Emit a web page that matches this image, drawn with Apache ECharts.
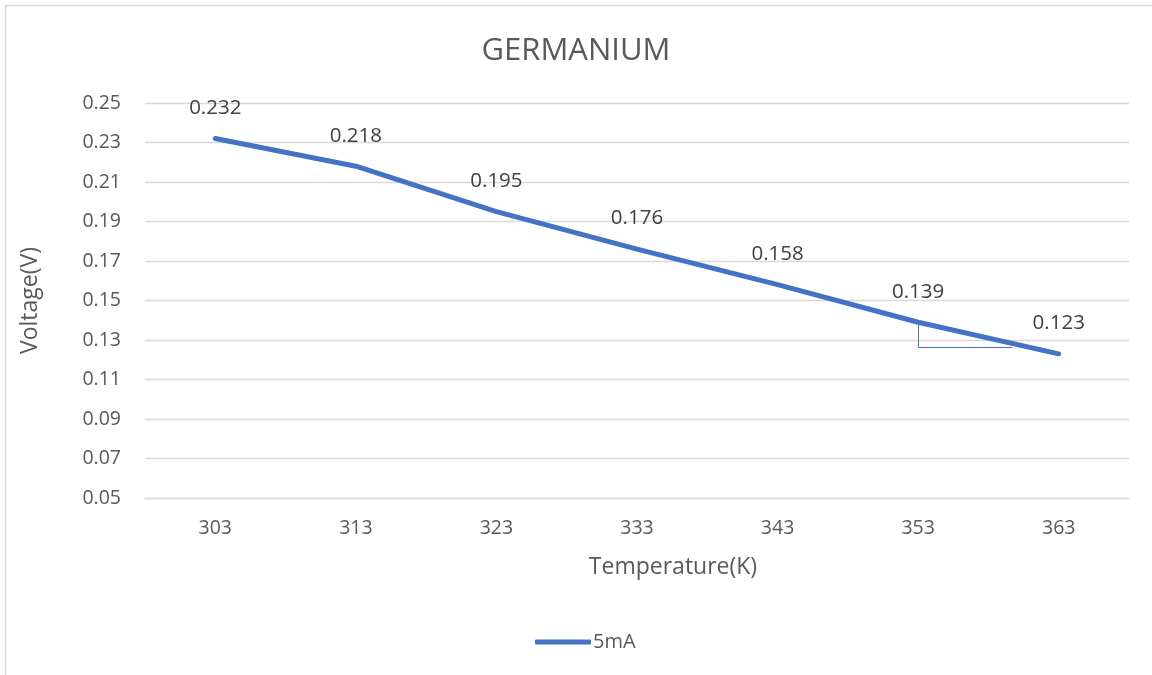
<!DOCTYPE html>
<html>
<head>
<meta charset="utf-8">
<script src="https://cdn.jsdelivr.net/npm/echarts@6/dist/echarts.min.js"></script>
<style>
    html, body { margin: 0; padding: 0; background: #fff; }
    #main { width: 1152px; height: 675px; }
</style>
</head>
<body>
<div id="main"></div>
<script>
// 数据
var temperatures = ['303', '313', '323', '333', '343', '353', '363'];
var voltage5mA = [0.232, 0.218, 0.195, 0.176, 0.158, 0.139, 0.123];
var seriesName = '5mA';

var myChart = echarts.init(document.getElementById('main'));
var font = '"Open Sans", "Noto Sans", sans-serif';

var option = {
    backgroundColor: '#fff',
    animation: false,
    title: {
        text: 'GERMANIUM',
        left: 'center',
        top: 31,
        textStyle: { fontFamily: font, fontSize: 31, fontWeight: 'normal', color: '#595959' }
    },
    legend: {
        left: 530,
        top: 627,
        icon: 'roundRect',
        itemWidth: 56,
        itemHeight: 5,
        itemGap: 4,
        textStyle: { fontFamily: font, fontSize: 20, color: '#595959', padding: [0, 0, 0, -3] },
        data: [seriesName]
    },
    grid: { left: 145, right: 23, top: 103, bottom: 177 },
    xAxis: {
        type: 'category',
        data: temperatures,
        boundaryGap: true,
        name: 'Temperature(K)',
        nameLocation: 'middle',
        nameGap: 58,
        nameTextStyle: { fontFamily: font, fontSize: 23, color: '#595959', padding: [0, 0, 0, 72] },
        axisLine: { show: true, lineStyle: { color: '#d9d9d9', width: 1.3 } },
        axisTick: { show: false },
        axisLabel: { fontFamily: font, fontSize: 19.5, color: '#595959', margin: 20 }
    },
    yAxis: {
        type: 'value',
        min: 0.05,
        max: 0.25,
        interval: 0.02,
        name: 'Voltage(V)',
        nameLocation: 'middle',
        nameGap: 103,
        nameTextStyle: { fontFamily: font, fontSize: 23, color: '#595959' },
        axisLine: { show: false },
        axisTick: { show: false },
        splitLine: { lineStyle: { color: '#d9d9d9', width: 1.3 } },
        axisLabel: {
            fontFamily: font, fontSize: 19.5, color: '#595959', margin: 24,
            formatter: function (v) { return v.toFixed(2); }
        }
    },
    series: [{
        name: seriesName,
        type: 'line',
        data: voltage5mA,
        showSymbol: true,
        symbol: 'circle',
        symbolSize: 2,
        itemStyle: { color: '#4472C4' },
        lineStyle: { color: '#4472C4', width: 5, cap: 'round', join: 'round' },
        label: {
            show: true,
            position: 'top',
            distance: 19,
            fontFamily: font,
            fontSize: 20.5,
            color: '#404040',
            formatter: function (p) { return p.value.toFixed(3); }
        }
    }]
};

myChart.setOption(option);

// 斜率三角形标注 + 外框
var p0 = myChart.convertToPixel({ gridIndex: 0 }, ['353', 0.139]);
var p1 = myChart.convertToPixel({ gridIndex: 0 }, ['353', 0.1265]);
var pNext = myChart.convertToPixel({ gridIndex: 0 }, ['363', 0.1265]);
var xEnd = p1[0] + (pNext[0] - p1[0]) * 0.67;

myChart.setOption({
    graphic: [
        {
            type: 'rect',
            shape: { x: 5.5, y: 5.5, width: 1200, height: 700 },
            style: { fill: 'none', stroke: '#d9d9d9', lineWidth: 1.5 },
            silent: true
        },
        {
            type: 'polyline',
            shape: { points: [[Math.round(p0[0]) + 0.5, p0[1]], [Math.round(p1[0]) + 0.5, Math.round(p1[1]) + 0.5], [xEnd, Math.round(p1[1]) + 0.5]] },
            style: { fill: 'none', stroke: '#4472C4', lineWidth: 1 },
            z: 1,
            silent: true
        }
    ]
});
</script>
</body>
</html>
